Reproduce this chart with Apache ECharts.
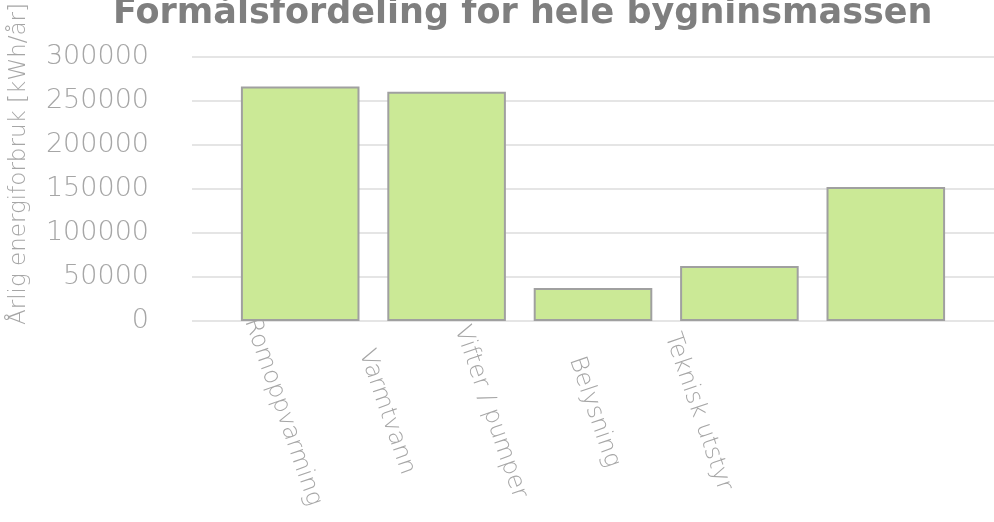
<!DOCTYPE html>
<html>
<head>
<meta charset="utf-8">
<script src="https://cdn.jsdelivr.net/npm/echarts@6/dist/echarts.min.js"></script>
<style>
html,body{margin:0;padding:0;background:#fff;}
#chart{width:994px;height:522px;}
</style>
</head>
<body>
<div id="chart"></div>
<script>
// ---- data ----
const titleText = 'Formålsfordeling for hele bygninsmassen';
const yAxisName = 'Årlig energiforbruk [kWh/år]';
const categories = ['Romoppvarming', 'Varmtvann', 'Vifter / pumper', 'Belysning', 'Teknisk utstyr'];
const values = [266000, 260000, 37500, 62500, 152000];
const yMin = 0, yMax = 300000, yStep = 50000;

const FONT = '"DejaVu Sans"';
const GRAY = '#a6a6a6';

const chart = echarts.init(document.getElementById('chart'), null, {renderer: 'canvas'});
chart.setOption({
  animation: false,
  backgroundColor: '#ffffff',
  title: {
    text: titleText,
    left: 108,
    top: -9,
    textStyle: {fontFamily: FONT, fontWeight: 'bold', fontSize: 35, color: '#7f7f7f'}
  },
  grid: [
    {left: 182, right: 0, top: 56.5, bottom: 201, containLabel: false},
    {left: 227, right: 35, top: 56.5, bottom: 201, containLabel: false},
    {left: 231, right: 244, top: 56.5, bottom: 201, containLabel: false}
  ],
  xAxis: [
    {type: 'category', gridIndex: 0, data: categories, show: false},
    {type: 'category', gridIndex: 1, data: categories,
      axisLine: {show: false}, axisTick: {show: false}, axisLabel: {show: false}},
    {type: 'category', gridIndex: 2, data: categories,
      axisLine: {show: false}, axisTick: {show: false},
      axisLabel: {
        interval: 0, rotate: -71, align: 'center', verticalAlign: 'middle', margin: 91,
        fontFamily: FONT, fontSize: 24, fontWeight: 200, color: GRAY
      }}
  ],
  yAxis: [
    {type: 'value', gridIndex: 0, min: yMin, max: yMax, interval: yStep,
      name: yAxisName, nameLocation: 'middle', nameGap: 161, nameRotate: 90,
      nameTextStyle: {fontFamily: FONT, fontSize: 23, fontWeight: 200, color: GRAY, padding: [0, 0, 0, 50]},
      axisLine: {show: false}, axisTick: {show: false},
      axisLabel: {margin: 43, fontFamily: FONT, fontSize: 27, fontWeight: 200, color: GRAY,
        formatter: v => String(v)},
      splitLine: {show: true, lineStyle: {color: '#e5e5e5', width: 2}}},
    {type: 'value', gridIndex: 1, min: yMin, max: yMax, interval: yStep, show: false,
      splitLine: {show: false}},
    {type: 'value', gridIndex: 2, min: yMin, max: yMax, interval: yStep, show: false,
      splitLine: {show: false}}
  ],
  series: [{
    type: 'bar',
    xAxisIndex: 1, yAxisIndex: 1,
    data: values,
    barWidth: '81%',
    itemStyle: {color: '#cbe996', borderColor: '#a0a0a0', borderWidth: 2},
    z: 3
  }]
});
</script>
</body>
</html>
